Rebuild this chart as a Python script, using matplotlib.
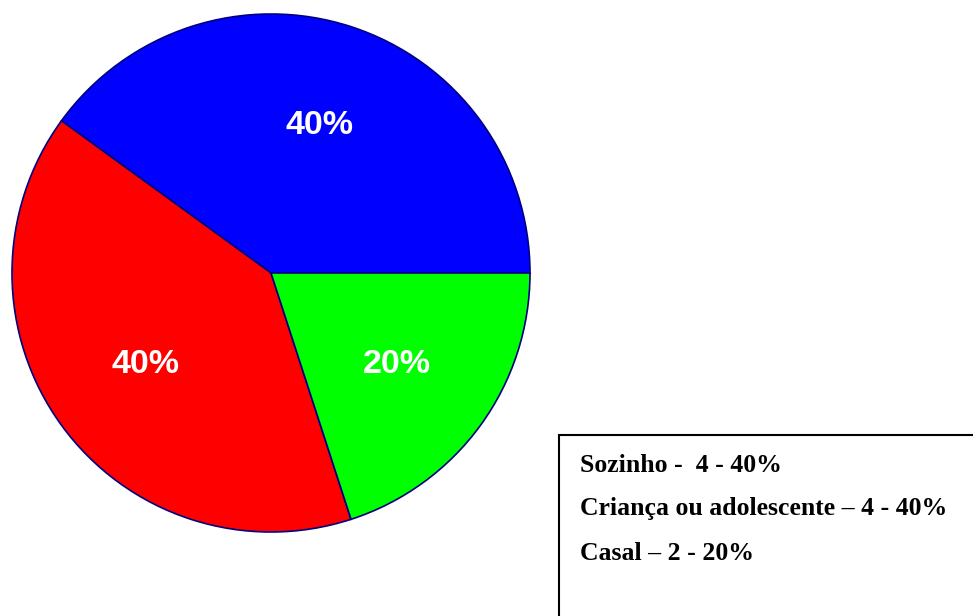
import matplotlib
matplotlib.use("Agg")
import matplotlib.pyplot as plt
from matplotlib.patches import Rectangle

# Data
categories = ["Sozinho", "Criança ou adolescente", "Casal"]
counts = [4, 4, 2]
percents = [40, 40, 20]
colors = ["#0000FF", "#FF0000", "#00FF00"]
legend_lines = [
    "Sozinho -  4 - 40%",
    "Criança ou adolescente \u2013 4 - 40%",
    "Casal \u2013 2 - 20%",
]

W, H = 973, 616
fig = plt.figure(figsize=(W / 100, H / 100), dpi=100)
fig.patch.set_facecolor("white")

# Pie axes placed in pixel terms
cx, cy, r = 271, 273, 259
ax = fig.add_axes([(cx - r) / W, (H - cy - r) / H, 2 * r / W, 2 * r / H])
wedges, texts, autotexts = ax.pie(
    counts,
    colors=colors,
    startangle=0,
    counterclock=True,
    radius=1,
    autopct=lambda p: f"{p:.0f}%",
    pctdistance=0.6,
    wedgeprops=dict(edgecolor="#000080", linewidth=1.2),
    textprops=dict(color="white", fontsize=24.5, fontweight="bold",
                   family="Liberation Sans"),
)
ax.set_xlim(-1.0, 1.0)
ax.set_ylim(-1.0, 1.0)
ax.set_aspect("equal")
ax.axis("off")

# Legend box at bottom right
box = Rectangle((559 / W, -0.1), 1.0, (H - 435) / H + 0.1,
                transform=fig.transFigure, facecolor="white",
                edgecolor="black", linewidth=1.5)
fig.add_artist(box)

ys = [465, 509, 553]
for txt, y in zip(legend_lines, ys):
    fig.text(580 / W, 1 - y / H, txt, ha="left", va="center",
             fontsize=18.5, fontweight="bold", family="Liberation Serif",
             color="black")

fig.savefig("out.png", dpi=100)
